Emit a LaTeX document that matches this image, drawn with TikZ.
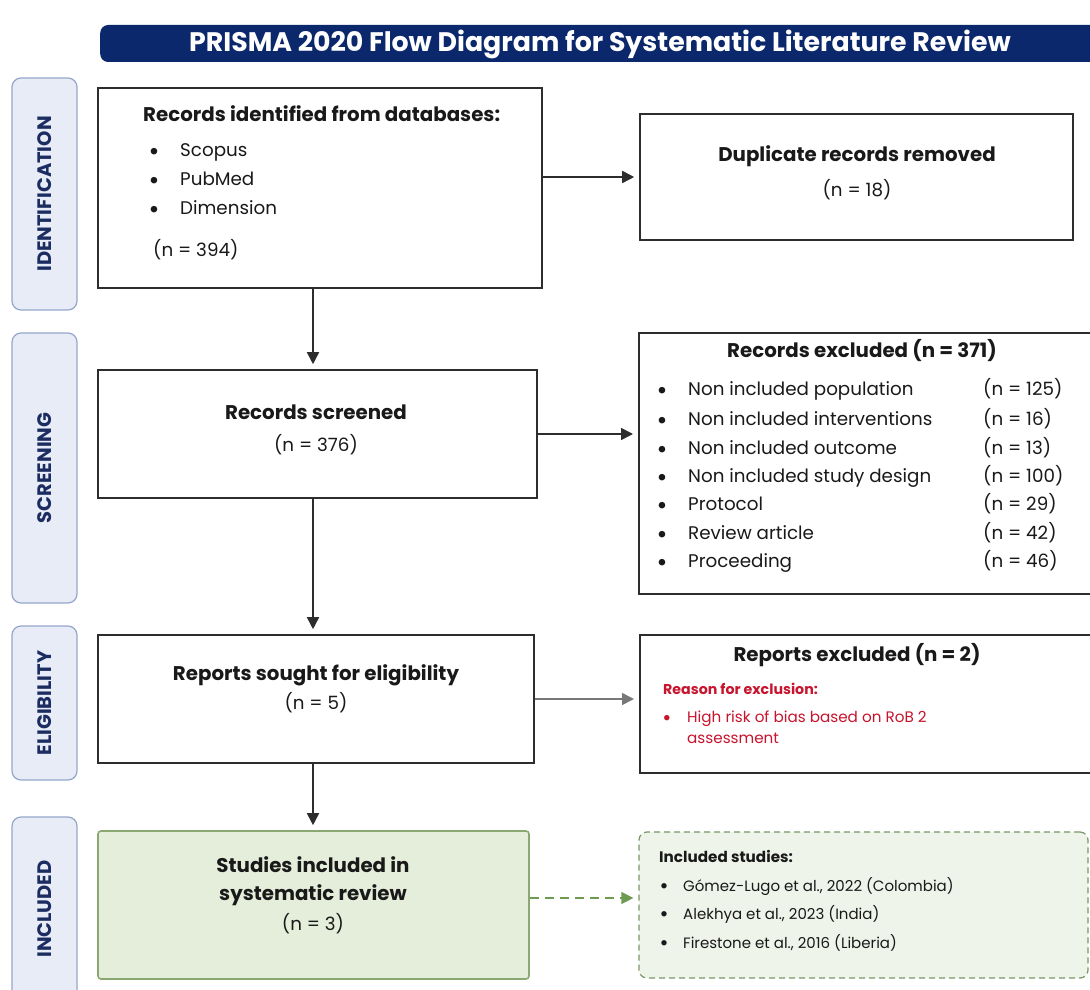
\documentclass[tikz,border=0pt]{standalone}
\usepackage{fontspec}
\setmainfont{Poppins}
\usetikzlibrary{arrows.meta,calc}
\newcommand\bigbul{\scalebox{1.45}{•}}
\definecolor{navy}{RGB}{12,40,108}
\definecolor{labfill}{RGB}{231,236,246}
\definecolor{labdraw}{RGB}{150,167,204}
\definecolor{labtext}{RGB}{27,44,96}
\definecolor{boxc}{RGB}{45,45,45}
\definecolor{txt}{RGB}{25,25,25}
\definecolor{redc}{RGB}{200,20,45}
\definecolor{grfill}{RGB}{229,238,218}
\definecolor{grdraw}{RGB}{140,168,114}
\definecolor{incfill}{RGB}{239,244,234}
\definecolor{incdraw}{RGB}{120,150,100}
\definecolor{grarrow}{RGB}{110,154,82}
\definecolor{grayarrow}{RGB}{120,120,120}
\tikzset{
  box/.style={draw=boxc, line width=1.6pt, fill=white, inner sep=0pt},
  lab/.style={draw=labdraw, line width=1.2pt, fill=labfill, rounded corners=9pt, rotate=90,
    text=labtext, font=\fontsize{19.5}{22}\selectfont\bfseries, inner sep=0pt},
  hd/.style={text=txt, font=\fontsize{19.8}{23}\selectfont\bfseries, inner sep=0pt},
  tx/.style={text=txt, font=\fontsize{18.3}{22}\selectfont, inner sep=0pt},
  rd/.style={text=redc, font=\fontsize{15.2}{18}\selectfont, inner sep=0pt},
  rdb/.style={text=redc, font=\fontsize{14.2}{18}\selectfont\bfseries, inner sep=0pt},
  sm/.style={text=txt, font=\fontsize{15}{18}\selectfont, inner sep=0pt},
  smb/.style={text=txt, font=\fontsize{15.2}{18}\selectfont\bfseries, inner sep=0pt},
  arr/.style={draw=boxc, line width=1.6pt, -{Triangle[length=12pt,width=12pt]}, shorten >=5pt},
}
\begin{document}
\begin{tikzpicture}[x=1pt,y=-1pt]
\useasboundingbox (0,0) rectangle (1090,990);
\fill[white] (0,0) rectangle (1090,990);
\begin{scope}
\clip (0,0) rectangle (1090,990);
% title
\node[fill=navy, rounded corners=8pt, minimum width=1010pt, minimum height=37pt, anchor=west, inner sep=0pt] (titlebar) at (100,43.5) {};
\node[text=white, font=\fontsize{26.8}{30}\selectfont\bfseries, inner sep=0pt] (titletext) at (600,44) {PRISMA 2020 Flow Diagram for Systematic Literature Review};
% side labels
\node[lab, minimum width=232pt, minimum height=65pt] (lid) at (44.5,194) {IDENTIFICATION};
\node[lab, minimum width=270pt, minimum height=65pt] (lsc) at (44.5,468) {SCREENING};
\node[lab, minimum width=154pt, minimum height=65pt] (lel) at (44.5,703) {ELIGIBILITY};
\node[lab, minimum width=184pt, minimum height=65pt] (lin) at (44.5,909) {INCLUDED};
\end{scope}
% boxes
\node[box, minimum width=444pt, minimum height=200pt] (b1) at (320,188) {};
\node[box, minimum width=433pt, minimum height=126pt] (dup) at (856.5,177) {};
\node[box, minimum width=439pt, minimum height=128pt] (b2) at (317.5,434) {};
\node[box, minimum width=470pt, minimum height=261pt, anchor=west] (excl) at (638,463.5) {};
\node[box, minimum width=436pt, minimum height=128pt] (b3) at (316,699) {};
\node[box, minimum width=470pt, minimum height=138pt, anchor=west] (rep) at (639,704) {};
\node[box, draw=grdraw, fill=grfill, rounded corners=3pt, minimum width=431pt, minimum height=148pt] (b4) at (313.5,905) {};
\node[box, draw=incdraw, fill=incfill, dashed, dash pattern=on 6pt off 4pt, line width=1.2pt, rounded corners=8pt, minimum width=449pt, minimum height=146pt] (inc) at (863.5,905) {};
% connectors
\coordinate (ax) at (313,0);
\draw[arr] (b1.south -| ax) -- (b2.north -| ax);
\draw[arr] (b2.south -| ax) -- (b3.north -| ax);
\draw[arr] (b3.south -| ax) -- (b4.north -| ax);
\draw[arr] (b1.east |- dup.west) -- (dup.west);
\draw[arr] (b2.east) -- (b2.east -| excl.west);
\draw[arr, draw=grayarrow] (b3.east) -- (b3.east -| rep.west);
\draw[arr, draw=grarrow, dashed, dash pattern=on 9pt off 6pt, line width=1.3pt] ([yshift=7pt]b4.east) -- ([yshift=7pt]b4.east -| inc.west);
% box 1 text
\node[hd, anchor=mid west] (t1) at (143,119) {Records identified from databases:};
\node[tx, anchor=center] (t1b1) at (154,154) {\bigbul};
\node[tx, anchor=mid west] (t1i1) at (180,154) {Scopus};
\node[tx, anchor=center] (t1b2) at (154,183) {\bigbul};
\node[tx, anchor=mid west] (t1i2) at (180,183) {PubMed};
\node[tx, anchor=center] (t1b3) at (154,212) {\bigbul};
\node[tx, anchor=mid west] (t1i3) at (180,212) {Dimension};
\node[tx, anchor=mid west] (t1n) at (153,254) {(n = 394)};
% duplicates
\node[hd, anchor=mid] (td) at (857,159) {Duplicate records removed};
\node[tx, anchor=mid] (tdn) at (857,194) {(n = 18)};
% screened
\node[hd, anchor=mid] (t2) at (316,417) {Records screened};
\node[tx, anchor=mid] (t2n) at (316,449) {(n = 376)};
% excluded
\node[hd, anchor=mid] (te) at (862,355) {Records excluded (n = 371)};
\foreach \i/\yy/\lab/\n in {1/393/Non included population/125, 2/423/Non included interventions/16, 3/452/Non included outcome/13, 4/480/Non included study design/100, 5/508/Protocol/29, 6/537/Review article/42, 7/565/Proceeding/46}{
  \node[tx, anchor=center] (eb\i) at (662,\yy) {\bigbul};
  \node[tx, anchor=mid west] (ei\i) at (688,\yy) {\lab};
  \node[tx, anchor=mid west] (en\i) at (983,\yy) {(n = \n)};
}
% eligibility
\node[hd, anchor=mid] (t3) at (316,678) {Reports sought for eligibility};
\node[tx, anchor=mid] (t3n) at (316,707) {(n = 5)};
\node[hd, anchor=mid] (tr) at (857,659) {Reports excluded (n = 2)};
\node[rdb, anchor=mid west] (trr) at (663,692) {Reason for exclusion:};
\node[rd, anchor=center] (trb) at (667,720) {\bigbul};
\node[rd, anchor=mid west] (tri) at (687,720) {High risk of bias based on RoB 2};
\node[rd, anchor=mid west] (tri2) at (687,741) {assessment};
% included
\node[hd, anchor=mid] (t4a) at (313,870) {Studies included in};
\node[hd, anchor=mid] (t4b) at (313,898) {systematic review};
\node[tx, anchor=mid] (t4n) at (313,928) {(n = 3)};
\node[smb, anchor=mid west] (tis) at (659,860) {Included studies:};
\node[sm, anchor=center] (ib1) at (664,889) {\bigbul};
\node[sm, anchor=mid west] (ii1) at (683,889) {Gómez-Lugo et al., 2022 (Colombia)};
\node[sm, anchor=center] (ib2) at (664,917) {\bigbul};
\node[sm, anchor=mid west] (ii2) at (683,917) {Alekhya et al., 2023 (India)};
\node[sm, anchor=center] (ib3) at (664,946) {\bigbul};
\node[sm, anchor=mid west] (ii3) at (683,946) {Firestone et al., 2016 (Liberia)};
\end{tikzpicture}
\end{document}
